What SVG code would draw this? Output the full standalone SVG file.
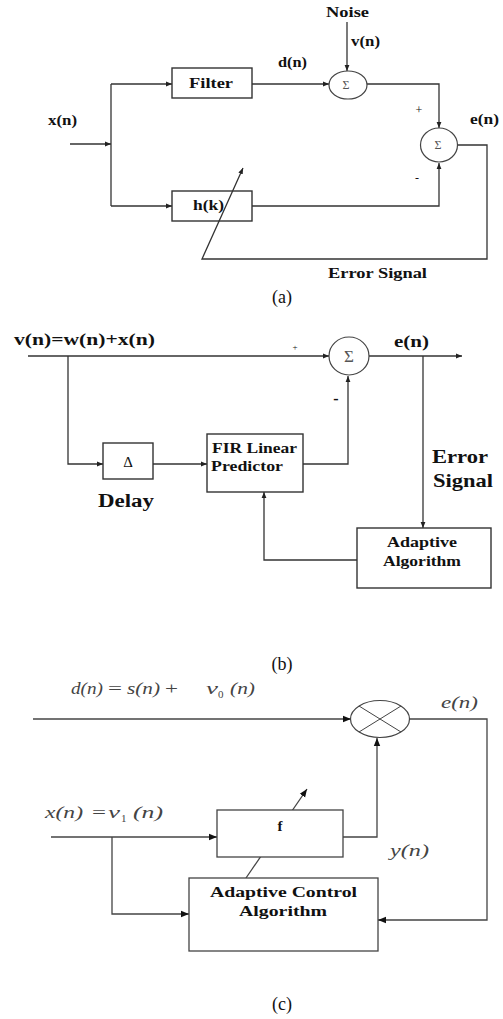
<svg xmlns="http://www.w3.org/2000/svg" width="503" height="1019" viewBox="0 0 503 1019">
<defs>
<marker id="ah" viewBox="0 0 10 10" refX="10" refY="5" markerWidth="6" markerHeight="6" orient="auto" markerUnits="userSpaceOnUse"><path d="M0,1 L10,5 L0,9 z" fill="#222"/></marker>
<marker id="ahc" viewBox="0 0 10 10" refX="10" refY="5" markerWidth="8" markerHeight="8" orient="auto" markerUnits="userSpaceOnUse"><path d="M0,1 L10,5 L0,9 z" fill="#111"/></marker>
<style>
.ln{fill:none;stroke:#333;stroke-width:1.3}
.lc{fill:none;stroke:#444;stroke-width:1.3}
.bx{fill:#fff;stroke:#333;stroke-width:1.4}
.bxc{fill:#fff;stroke:#444;stroke-width:1.3}
.tb{font-family:"Liberation Serif","Times New Roman",serif;font-weight:bold;fill:#111}
.tr{font-family:"Liberation Serif","Times New Roman",serif;fill:#111}
.ti{font-family:"Liberation Serif","Times New Roman",serif;font-style:italic;fill:#444;font-size:17px}
.tm{font-family:"Liberation Serif","Times New Roman",serif;fill:#444;font-size:17px}
.sub{font-family:"Liberation Serif","Times New Roman",serif;fill:#444;font-size:11px}
.sg{font-family:"Liberation Serif","Times New Roman",serif;fill:#555}
</style>
</defs>

<g id="connectors">
<!-- (a) -->
<line class="ln" x1="347" y1="22" x2="347" y2="71" marker-end="url(#ah)"/>
<line class="ln" x1="70" y1="144" x2="111" y2="144" marker-end="url(#ah)"/>
<polyline class="ln" points="111,84 111,206"/>
<line class="ln" x1="111" y1="84" x2="172" y2="84" marker-end="url(#ah)"/>
<line class="ln" x1="111" y1="206" x2="172" y2="206" marker-end="url(#ah)"/>
<line class="ln" x1="252" y1="84" x2="329" y2="84" marker-end="url(#ah)"/>
<polyline class="ln" points="367,84 439,84 439,128" marker-end="url(#ah)"/>
<polyline class="ln" points="252,206 439,206 439,163" marker-end="url(#ah)"/>
<polyline class="ln" points="458,145 487,145 487,259 202,259 243,168" marker-end="url(#ah)"/>
<!-- (b) -->
<line class="ln" x1="28" y1="356" x2="329" y2="356" marker-end="url(#ah)"/>
<line class="ln" x1="369" y1="356" x2="462" y2="356" marker-end="url(#ah)"/>
<polyline class="ln" points="68,356 68,464 103,464" marker-end="url(#ah)"/>
<line class="ln" x1="153" y1="464" x2="207" y2="464" marker-end="url(#ah)"/>
<polyline class="ln" points="303,464 348,464 348,376" marker-end="url(#ah)"/>
<line class="ln" x1="423" y1="356" x2="423" y2="528" marker-end="url(#ah)"/>
<polyline class="ln" points="357,560 264,560 264,492" marker-end="url(#ah)"/>
<!-- (c) -->
<line class="lc" x1="33" y1="719" x2="351" y2="719" marker-end="url(#ahc)"/>
<polyline class="lc" points="410,719 487,719 487,920 378,920" marker-end="url(#ahc)"/>
<line class="lc" x1="51" y1="837" x2="217" y2="837" marker-end="url(#ahc)"/>
<polyline class="lc" points="112,837 112,914 189,914" marker-end="url(#ahc)"/>
<polyline class="lc" points="343,837 377,837 377,738" marker-end="url(#ahc)"/>
<line class="lc" x1="246" y1="878" x2="307" y2="789" marker-end="url(#ahc)"/>
</g>

<!-- (a) nodes -->
<g id="a-filter">
<rect class="bx" x="172" y="68" width="80" height="30"/>
<text class="tb" x="189" y="88" font-size="15" textLength="44" lengthAdjust="spacingAndGlyphs">Filter</text>
</g>
<g id="a-hk">
<rect class="bx" x="172" y="191" width="80" height="30" style="fill:none"/>
<text class="tb" x="193" y="210" font-size="15" textLength="31" lengthAdjust="spacingAndGlyphs">h(k)</text>
</g>
<g id="a-sum1">
<ellipse cx="348" cy="85" rx="19" ry="14" fill="#fff" stroke="#444" stroke-width="1.2"/>
<text class="sg" x="346" y="89" font-size="12" text-anchor="middle">Σ</text>
</g>
<g id="a-sum2">
<ellipse cx="439" cy="145" rx="18.5" ry="17" fill="#fff" stroke="#444" stroke-width="1.2"/>
<text class="sg" x="438" y="149" font-size="12" text-anchor="middle">Σ</text>
</g>
<g id="a-labels">
<text class="tb" x="326" y="17" font-size="15" textLength="43" lengthAdjust="spacingAndGlyphs">Noise</text>
<text class="tb" x="351" y="46" font-size="14" textLength="29" lengthAdjust="spacingAndGlyphs">v(n)</text>
<text class="tb" x="278" y="67" font-size="14" textLength="29" lengthAdjust="spacingAndGlyphs">d(n)</text>
<text class="tb" x="48" y="125" font-size="14" textLength="29" lengthAdjust="spacingAndGlyphs">x(n)</text>
<text class="tb" x="470" y="124" font-size="14" textLength="29" lengthAdjust="spacingAndGlyphs">e(n)</text>
<text class="tr" x="419" y="114" font-size="12" text-anchor="middle">+</text>
<text class="tr" x="417" y="182" font-size="12" text-anchor="middle">-</text>
<text class="tb" x="328" y="278" font-size="15" textLength="99" lengthAdjust="spacingAndGlyphs">Error Signal</text>
<text class="tr" x="282" y="303" font-size="18" text-anchor="middle">(a)</text>
</g>

<!-- (b) nodes -->
<g id="b-sum">
<ellipse cx="349" cy="356" rx="20" ry="19" fill="#fff" stroke="#444" stroke-width="1.2"/>
<text class="sg" x="349" y="362" font-size="17" text-anchor="middle">Σ</text>
</g>
<g id="b-delay">
<rect class="bx" x="103" y="443" width="50" height="36"/>
<text class="tr" x="128" y="467" font-size="15" text-anchor="middle" fill="#333">Δ</text>
</g>
<g id="b-fir">
<rect class="bx" x="207" y="434" width="96" height="58"/>
<text class="tb" x="212" y="453" font-size="15" textLength="85" lengthAdjust="spacingAndGlyphs">FIR Linear</text>
<text class="tb" x="211" y="471" font-size="15" textLength="72" lengthAdjust="spacingAndGlyphs">Predictor</text>
</g>
<g id="b-adaptive">
<rect class="bx" x="357" y="528" width="134" height="60"/>
<text class="tb" x="387" y="547" font-size="15" textLength="70" lengthAdjust="spacingAndGlyphs">Adaptive</text>
<text class="tb" x="383" y="566" font-size="15" textLength="78" lengthAdjust="spacingAndGlyphs">Algorithm</text>
</g>
<g id="b-labels">
<text class="tb" x="14" y="345" font-size="16" textLength="141" lengthAdjust="spacingAndGlyphs">v(n)=w(n)+x(n)</text>
<text class="tr" x="295" y="350" font-size="9" text-anchor="middle">+</text>
<text class="tb" x="336" y="404" font-size="16" text-anchor="middle">-</text>
<text class="tb" x="394" y="347" font-size="16" textLength="35" lengthAdjust="spacingAndGlyphs">e(n)</text>
<text class="tb" x="98" y="507" font-size="18" textLength="56" lengthAdjust="spacingAndGlyphs">Delay</text>
<text class="tb" x="432" y="463" font-size="19" textLength="56" lengthAdjust="spacingAndGlyphs">Error</text>
<text class="tb" x="433" y="487" font-size="19" textLength="60" lengthAdjust="spacingAndGlyphs">Signal</text>
<text class="tr" x="282" y="670" font-size="18" text-anchor="middle">(b)</text>
</g>

<!-- (c) nodes -->
<g id="c-mult">
<ellipse cx="380" cy="719" rx="29.5" ry="18.5" fill="#fff" stroke="#444" stroke-width="1.2"/>
<line x1="359" y1="706" x2="401" y2="732" stroke="#444" stroke-width="1"/>
<line x1="359" y1="732" x2="401" y2="706" stroke="#444" stroke-width="1"/>
</g>
<g id="c-f">
<rect class="bxc" x="217" y="810" width="126" height="47"/>
<text class="tb" x="280" y="831" font-size="15" text-anchor="middle" fill="#222">f</text>
</g>
<g id="c-aca">
<rect class="bxc" x="189" y="878" width="189" height="73"/>
<text class="tb" x="210" y="897" font-size="14" textLength="147" lengthAdjust="spacingAndGlyphs" fill="#333">Adaptive Control</text>
<text class="tb" x="239" y="916" font-size="14" textLength="88" lengthAdjust="spacingAndGlyphs" fill="#333">Algorithm</text>
</g>
<g id="c-labels">
<text class="ti" x="71" y="694" textLength="32" lengthAdjust="spacingAndGlyphs">d(n)</text>
<text class="tm" x="108" y="694" textLength="14" lengthAdjust="spacingAndGlyphs">=</text>
<text class="ti" x="127" y="694" textLength="33" lengthAdjust="spacingAndGlyphs">s(n)</text>
<text class="tm" x="165" y="694" textLength="13" lengthAdjust="spacingAndGlyphs">+</text>
<text class="ti" x="206" y="694" textLength="12" lengthAdjust="spacingAndGlyphs">v</text>
<text class="sub" x="218" y="698">0</text>
<text class="ti" x="230" y="694" textLength="25" lengthAdjust="spacingAndGlyphs">(n)</text>
<text class="ti" x="441" y="708" textLength="37" lengthAdjust="spacingAndGlyphs">e(n)</text>
<text class="ti" x="45" y="818" textLength="38" lengthAdjust="spacingAndGlyphs">x(n)</text>
<text class="tm" x="92" y="818" textLength="14" lengthAdjust="spacingAndGlyphs">=</text>
<text class="ti" x="108" y="818" textLength="12" lengthAdjust="spacingAndGlyphs">v</text>
<text class="sub" x="121" y="822">1</text>
<text class="ti" x="133" y="818" textLength="30" lengthAdjust="spacingAndGlyphs">(n)</text>
<text class="ti" x="390" y="856" textLength="39" lengthAdjust="spacingAndGlyphs">y(n)</text>
<text class="tr" x="282" y="1010" font-size="18" text-anchor="middle">(c)</text>
</g>
</svg>
